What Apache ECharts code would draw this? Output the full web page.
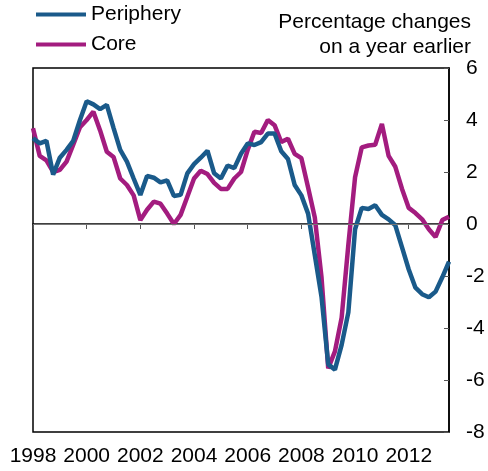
<!DOCTYPE html>
<html>
<head>
<meta charset="utf-8">
<script src="https://cdn.jsdelivr.net/npm/echarts@6/dist/echarts.min.js"></script>
<style>html,body{margin:0;padding:0;background:#fff;}#c{width:488px;height:471px;}</style>
</head>
<body>
<div id="c"></div>
<script>
// Quarterly categories, 1998 Q1 to 2013 Q3
const years = [1998,1999,2000,2001,2002,2003,2004,2005,2006,2007,2008,2009,2010,2011,2012,2013];
const quarters = [];
years.forEach(y => { for (let q = 1; q <= 4; q++) { if (y === 2013 && q > 3) break; quarters.push(y + ' Q' + q); } });

const periphery = [3.3,3.1,3.2,1.9,2.55,2.85,3.2,4.0,4.72,4.6,
  4.42,4.58,3.7,2.85,2.4,1.75,1.12,1.85,1.78,1.6,
  1.68,1.08,1.12,1.95,2.3,2.55,2.82,1.95,1.75,2.25,
  2.15,2.7,3.1,3.04,3.15,3.48,3.48,2.8,2.5,1.5,
  1.1,0.4,-1.2,-2.8,-5.4,-5.6,-4.65,-3.4,-0.2,0.62,
  0.58,0.72,0.35,0.18,-0.05,-0.9,-1.75,-2.45,-2.7,-2.82,
  -2.6,-2.05,-1.45];
const core = [3.68,2.62,2.45,2.0,2.08,2.4,3.05,3.72,4.0,4.32,
  3.6,2.78,2.58,1.75,1.5,1.1,0.15,0.55,0.86,0.78,
  0.4,0.0,0.35,1.05,1.75,2.05,1.92,1.58,1.35,1.35,
  1.75,2.0,2.85,3.55,3.5,4.0,3.8,3.15,3.28,2.7,
  2.53,1.4,0.25,-2.05,-5.55,-4.9,-3.6,-0.8,1.8,2.95,
  3.02,3.05,3.85,2.62,2.2,1.35,0.62,0.42,0.18,-0.2,
  -0.5,0.15,0.28];
const yTicks = {min: -8, max: 6, interval: 2};
const titleLines = ['Percentage changes', 'on a year earlier'];

const FONT = '"Liberation Sans", Arial, sans-serif';
const FS = 21;
const chart = echarts.init(document.getElementById('c'), null, {renderer: 'canvas'});
chart.setOption({
  animation: false,
  backgroundColor: '#fff',
  grid: {left: 33, right: 39, top: 68, bottom: 39, show: true, borderColor: '#000', borderWidth: 1.5, backgroundColor: 'transparent'},
  legend: {
    orient: 'vertical', left: 36, top: 4, padding: 0, itemWidth: 50, itemHeight: 22, itemGap: 9,
    data: [
      {name: 'Periphery', icon: 'path://M0,9 L50,9 L50,13 L0,13 Z'},
      {name: 'Core', icon: 'path://M0,9 L50,9 L50,13 L0,13 Z'}
    ],
    textStyle: {fontFamily: FONT, fontSize: FS, color: '#000', padding: [3, 0, 0, 0]}
  },
  graphic: [
    {type: 'text', right: 17, top: 12, style: {text: titleLines[0], font: FS + 'px ' + FONT, fill: '#000', textAlign: 'right'}},
    {type: 'text', right: 17, top: 37, style: {text: titleLines[1], font: FS + 'px ' + FONT, fill: '#000', textAlign: 'right'}}
  ],
  xAxis: {
    type: 'category', data: quarters, boundaryGap: false,
    axisLine: {lineStyle: {color: '#000', width: 1.5}},
    axisTick: {interval: 7, length: 5, lineStyle: {color: '#555'}},
    axisLabel: {interval: 7, margin: 14, fontFamily: FONT, fontSize: FS, color: '#000', formatter: v => v.slice(0, 4)},
    splitLine: {show: false}
  },
  yAxis: {
    type: 'value', position: 'right', min: yTicks.min, max: yTicks.max, interval: yTicks.interval,
    axisLine: {show: true, lineStyle: {color: '#000', width: 1.5}},
    axisTick: {show: true, inside: true, length: 5, lineStyle: {color: '#555'}},
    axisLabel: {margin: 17, fontFamily: FONT, fontSize: FS, color: '#000', align: 'left'},
    splitLine: {show: false}
  },
  series: [
    {name: 'Periphery', type: 'line', data: periphery, showSymbol: false, symbol: 'none',
     itemStyle: {color: '#1a5a8a'}, lineStyle: {color: '#1a5a8a', width: 4.5}, z: 3,
     markLine: {silent: true, symbol: 'none', label: {show: false}, lineStyle: {color: '#777', width: 1, type: 'solid'}, data: [{yAxis: 0}]}},
    {name: 'Core', type: 'line', data: core, showSymbol: false, symbol: 'none',
     itemStyle: {color: '#a31c7f'}, lineStyle: {color: '#a31c7f', width: 4.5}, z: 2}
  ]
});
</script>
</body>
</html>
